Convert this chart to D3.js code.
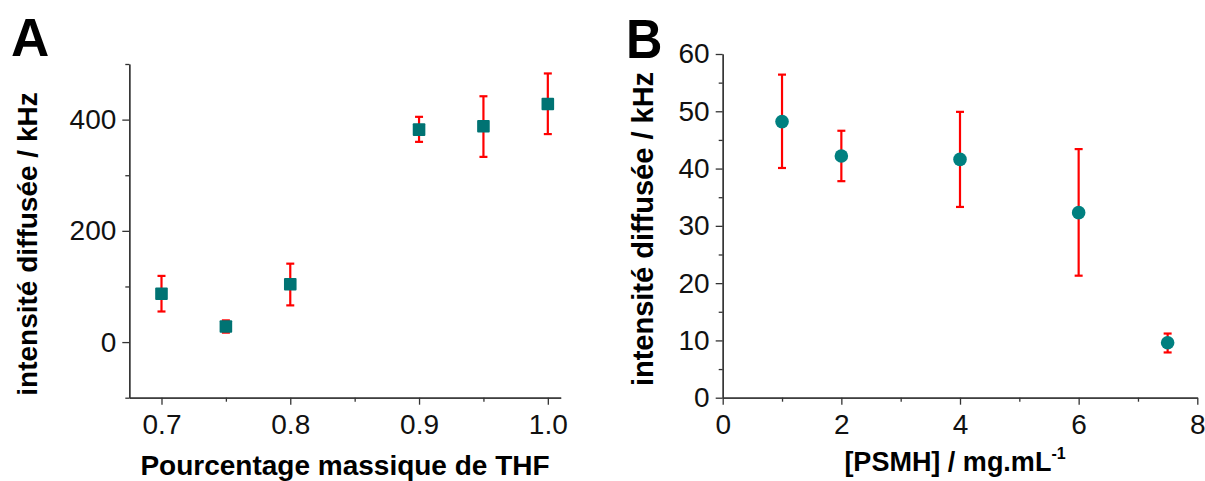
<!DOCTYPE html>
<html>
<head>
<meta charset="utf-8">
<script src="https://cdn.jsdelivr.net/npm/d3@7"></script>
<style>
  html, body { margin: 0; padding: 0; background: #fff; }
  svg { display: block; font-family: "Liberation Sans", Arial, sans-serif; }
  .axis path, .axis line { stroke: #333; stroke-width: 1.3; }
  .axis text { font-size: 28px; fill: #111; font-family: "Liberation Sans", Arial, sans-serif; }
</style>
</head>
<body>
<svg id="chart" width="1205" height="481"></svg>
<script>
// ---- Panel A data ----
const thfFraction = [0.70, 0.75, 0.80, 0.90, 0.95, 1.00];
const intensityA = [87, 28, 104, 382, 388, 428];
const errLowA  = [55, 17, 66, 360, 333, 374];
const errHighA = [119, 39, 141, 405, 442, 483];
const xTicksA = [0.7, 0.8, 0.9, 1.0];
const xMinorA = [0.75, 0.85, 0.95];
const yTicksA = [0, 200, 400];
const yMinorA = [-100, 100, 300, 500];

// ---- Panel B data ----
const psmhConc = [1, 2, 4, 6, 7.5];
const intensityB = [48.2, 42.2, 41.6, 32.3, 9.6];
const errLowB  = [40.1, 37.8, 33.3, 21.3, 7.9];
const errHighB = [56.4, 46.6, 49.9, 43.4, 11.2];
const xTicksB = [0, 2, 4, 6, 8];
const xMinorB = [1, 3, 5, 7];
const yTicksB = [0, 10, 20, 30, 40, 50, 60];
const yMinorB = [5, 15, 25, 35, 45, 55];

const svg = d3.select("#chart");
const markerFill = "#007373";
const markerFillB = "#008080";
const errColor = "#ff0000";

function drawAxes(g, x, y, xt, xm, yt, ym, xfmt, yfmt) {
  const [x0] = x.range();
  const [y0] = y.range();
  g.append("g").attr("class", "axis").attr("transform", `translate(0,${y0})`)
    .call(d3.axisBottom(x).tickValues(xm).tickSize(4).tickSizeOuter(0).tickFormat(""));
  g.append("g").attr("class", "axis").attr("transform", `translate(0,${y0})`)
    .call(d3.axisBottom(x).tickValues(xt).tickSize(7).tickPadding(9).tickSizeOuter(0).tickFormat(xfmt));
  g.append("g").attr("class", "axis").attr("transform", `translate(${x0},0)`)
    .call(d3.axisLeft(y).tickValues(ym).tickSize(4).tickSizeOuter(0).tickFormat(""));
  g.append("g").attr("class", "axis").attr("transform", `translate(${x0},0)`)
    .call(d3.axisLeft(y).tickValues(yt).tickSize(7).tickPadding(6).tickSizeOuter(0).tickFormat(yfmt));
}

function drawErrors(g, xs, lows, highs, x, y) {
  const cap = 4;
  const eg = g.append("g").attr("stroke", errColor).attr("stroke-width", 2.2).attr("fill", "none");
  xs.forEach((xv, i) => {
    const cx = x(xv);
    eg.append("line").attr("x1", cx).attr("x2", cx).attr("y1", y(lows[i])).attr("y2", y(highs[i]));
    eg.append("line").attr("x1", cx - cap).attr("x2", cx + cap).attr("y1", y(lows[i])).attr("y2", y(lows[i]));
    eg.append("line").attr("x1", cx - cap).attr("x2", cx + cap).attr("y1", y(highs[i])).attr("y2", y(highs[i]));
  });
}

// ---- Panel A ----
const xA = d3.scaleLinear().domain([0.675, 1.01]).range([129.3, 560.7]);
const yA = d3.scaleLinear().domain([-100, 500]).range([397.7, 64]);
const gA = svg.append("g");
drawAxes(gA, xA, yA, xTicksA, xMinorA, yTicksA, yMinorA, d3.format(".1f"), d3.format("d"));
drawErrors(gA, thfFraction, errLowA, errHighA, xA, yA);
const sq = 12.6;
gA.selectAll("rect.pt").data(thfFraction).join("rect").attr("class", "pt")
  .attr("x", d => xA(d) - sq / 2)
  .attr("y", (d, i) => yA(intensityA[i]) - sq / 2)
  .attr("width", sq).attr("height", sq).attr("rx", 1)
  .attr("fill", markerFill);

gA.append("text").attr("x", 345).attr("y", 475).attr("text-anchor", "middle")
  .attr("font-size", 28).attr("font-weight", "bold").text("Pourcentage massique de THF");
gA.append("text").attr("transform", "translate(37,244) rotate(-90)").attr("text-anchor", "middle")
  .attr("font-size", 28).attr("font-weight", "bold").text("intensité diffusée / kHz");
gA.append("text").attr("x", 11).attr("y", 56).attr("font-size", 53).attr("font-weight", "bold").text("A");

// ---- Panel B ----
const xB = d3.scaleLinear().domain([0, 8]).range([722.7, 1197.3]);
const yB = d3.scaleLinear().domain([0, 60]).range([397.7, 54]);
const gB = svg.append("g");
drawAxes(gB, xB, yB, xTicksB, xMinorB, yTicksB, yMinorB, d3.format("d"), d3.format("d"));
drawErrors(gB, psmhConc, errLowB, errHighB, xB, yB);
gB.selectAll("circle.pt").data(psmhConc).join("circle").attr("class", "pt")
  .attr("cx", d => xB(d))
  .attr("cy", (d, i) => yB(intensityB[i]))
  .attr("r", 6.8)
  .attr("fill", markerFillB);

const tB = gB.append("text").attr("x", 955).attr("y", 471).attr("text-anchor", "middle")
  .attr("font-size", 27).attr("font-weight", "bold");
tB.append("tspan").text("[PSMH] / mg.mL");
tB.append("tspan").attr("font-size", 16).attr("dy", -12).text("-1");
gB.append("text").attr("transform", "translate(653,229) rotate(-90)").attr("text-anchor", "middle")
  .attr("font-size", 29).attr("font-weight", "bold").text("intensité diffusée / kHz");
gB.append("text").attr("x", 626).attr("y", 58).attr("font-size", 56).attr("font-weight", "bold")
  .attr("transform", "translate(626,0) scale(0.9,1) translate(-626,0)").text("B");
</script>
</body>
</html>
